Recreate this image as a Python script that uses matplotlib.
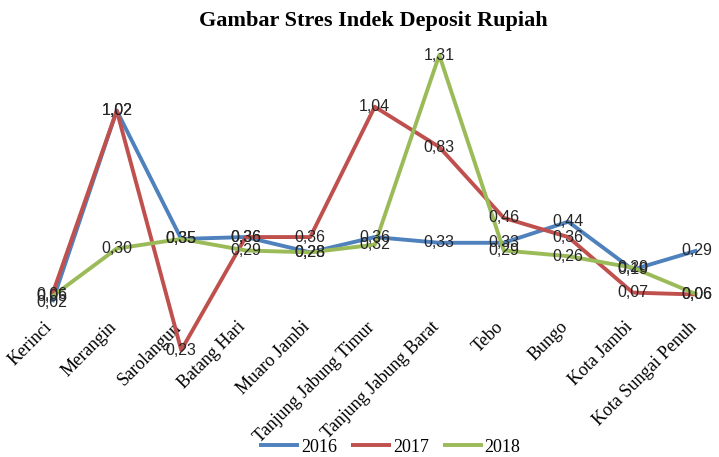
import matplotlib
matplotlib.use("Agg")
import matplotlib.pyplot as plt
import matplotlib.transforms as mtransforms
import numpy as np

categories = ["Kerinci", "Merangin", "Sarolangun", "Batang Hari", "Muaro Jambi",
              "Tanjung Jabung Timur", "Tanjung Jabung Barat", "Tebo", "Bungo",
              "Kota Jambi", "Kota Sungai Penuh"]
s2016 = [0.02, 1.02, 0.35, 0.36, 0.28, 0.36, 0.33, 0.33, 0.44, 0.19, 0.29]
s2017 = [0.06, 1.02, -0.23, 0.36, 0.36, 1.04, 0.83, 0.46, 0.36, 0.07, 0.06]
s2018 = [0.05, 0.30, 0.35, 0.29, 0.28, 0.32, 1.31, 0.29, 0.26, 0.20, 0.06]
series = [("2016", s2016, "#4F81BD"), ("2017", s2017, "#C0504D"), ("2018", s2018, "#9BBB59")]

W, H = 719, 457
fig = plt.figure(figsize=(W / 100, H / 100), dpi=100)
left_px = 20
cat_w = 64.5
ax = fig.add_axes([left_px / W, 1 - 363.5 / H, (W - left_px) / W, (363.5 - 37.8) / H])
x = np.arange(len(categories))
ax.set_xlim(-0.5, -0.5 + (W - left_px) / cat_w)
ax.set_ylim(-0.3, 1.4)

for name, vals, col in series:
    ax.plot(x, vals, color=col, lw=2.8, label=name, solid_capstyle="butt")
for name, vals, col in series:
    for xi, v in zip(x, vals):
        ax.text(xi, v, f"{abs(v):.2f}".replace(".", ","), ha="center", va="center",
                fontsize=11.5, color="#262626", family="Liberation Sans", zorder=5)

for s in ax.spines.values():
    s.set_visible(False)
ax.spines["bottom"].set_position(("data", 0))
ax.set_yticks([])
ax.set_xticks(x)
ax.set_xticklabels(categories, rotation=45, ha="right", va="top", rotation_mode="anchor",
                   family="Liberation Serif", fontsize=13)
ax.tick_params(axis="x", length=0, pad=9)
shift = mtransforms.ScaledTranslation(-9 / 100, 0, fig.dpi_scale_trans)
for lab in ax.get_xticklabels():
    lab.set_transform(lab.get_transform() + shift)
ax.patch.set_alpha(0)

fig.text(373 / W, 1 - 21 / H, "Gambar Stres Indek Deposit Rupiah", ha="center", va="center",
         family="Liberation Serif", fontweight="bold", fontsize=16)

handles, labels = ax.get_legend_handles_labels()
fig.legend(handles, labels, loc="center", bbox_to_anchor=(390 / W, 1 - 447 / H), ncol=3,
           frameon=False, prop={"family": "Liberation Serif", "size": 13},
           handlelength=2.2, columnspacing=0.8, handletextpad=0.1)

fig.savefig("out.png", dpi=100)
